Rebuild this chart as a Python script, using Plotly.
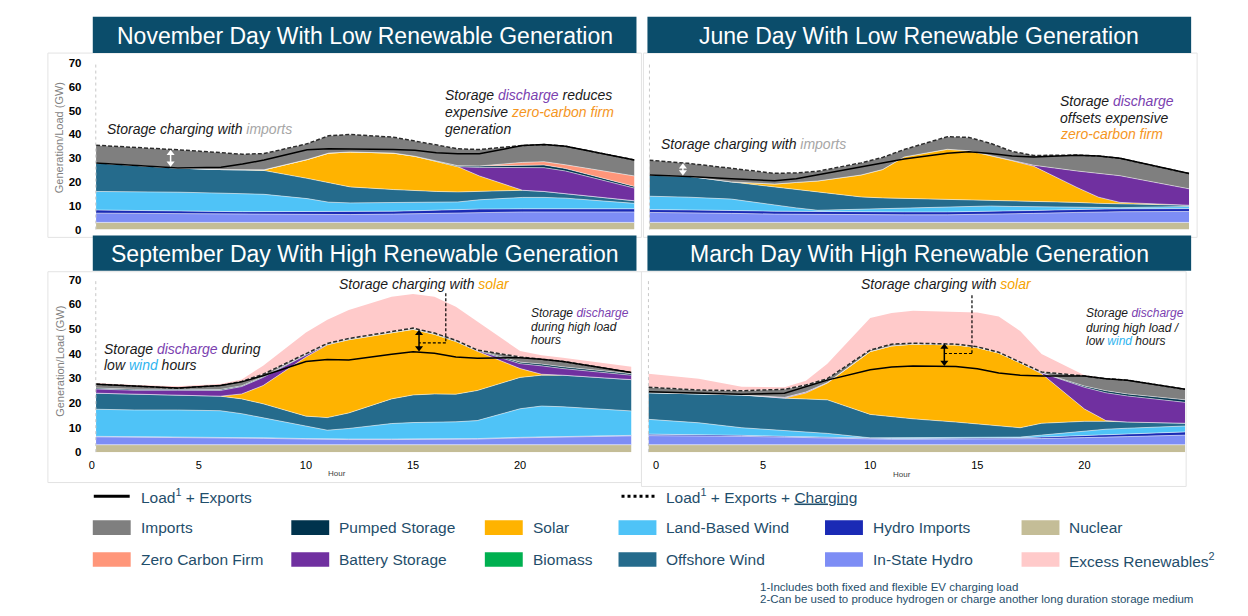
import plotly.graph_objects as go

W, H = 1248, 616
FONT = "Liberation Sans, Arial, Helvetica, sans-serif"

# ---------------- data (GW) ----------------
HOURS = [0.2, 2, 4, 6, 7, 8, 10, 11, 12, 14, 15, 16, 17, 18, 20, 21, 22, 25.2]
HOURS_MAR = [-0.35, 2, 4, 6, 7, 8, 10, 11, 12, 14, 15, 16, 17, 18, 20, 21, 22, 24.7]
X_TICKS = [0, 5, 10, 15, 20]
Y_TICKS = [0, 10, 20, 30, 40, 50, 60, 70]

# November day with low renewable generation
NOV_NUCLEAR = [3.0, 3.0, 3.0, 3.0, 3.0, 3.0, 3.0, 3.0, 3.0, 3.0, 3.0, 3.0, 3.0, 3.0, 3.0, 3.0, 3.0, 3.0]
NOV_INSTATE_HYDRO = [3.9, 3.8, 3.6, 3.4, 3.3, 3.3, 3.2, 3.2, 3.3, 3.5, 3.7, 3.9, 4.1, 4.3, 4.4, 4.4, 4.4, 4.4]
NOV_HYDRO_IMPORTS = [1.3, 1.3, 1.2, 1.2, 1.2, 1.2, 1.2, 1.2, 1.2, 1.2, 1.2, 1.3, 1.3, 1.3, 1.3, 1.3, 1.3, 1.3]
NOV_LAND_WIND = [7.8, 7.9, 7.9, 7.7, 7.5, 7.3, 5.6, 4.1, 3.7, 3.6, 3.4, 3.2, 3.2, 3.9, 4.8, 4.8, 4.5, 2.3]
NOV_OFFSHORE_WIND = [12.0, 11.0, 10.1, 9.9, 10.0, 10.0, 8.5, 8.1, 6.7, 5.5, 5.0, 4.6, 4.2, 3.5, 3.0, 2.5, 1.8, 1.1]
NOV_SOLAR = [0, 0, 0, 0, 0, 0.3, 7.9, 12.5, 14.7, 15.3, 14.5, 12.7, 10.6, 6.5, 0, 0, 0, 0]
NOV_BATTERY = [0, 0, 0, 0, 0, 0, 0, 0, 0, 0, 0, 0, 0, 3.6, 9.5, 10.0, 9.6, 5.3]
NOV_PUMPED = [0, 0, 0, 0, 0, 0, 0, 0, 0, 0, 0, 0, 0.4, 0.6, 1.0, 1.1, 1.0, 0.7]
NOV_ZCF = [0, 0, 0, 0, 0, 0, 0, 0, 0, 0, 0, 0, 0, 0, 1.2, 1.4, 1.6, 4.4]
NOV_IMPORTS = [7.4, 7.6, 7.7, 7.1, 6.6, 6.8, 6.6, 7.3, 7.3, 6.7, 6.3, 6.7, 7.1, 6.9, 7.1, 7.2, 7.8, 6.7]
NOV_LOAD = [28.0, 27.1, 25.9, 26.2, 27.5, 29.2, 33.5, 33.9, 33.9, 33.6, 33.3, 32.3, 31.8, 31.8, 35.3, 35.7, 35.0, 29.2]
NOV_LOAD_CHARGING = [35.4, 34.6, 33.5, 32.3, 31.6, 31.9, 36.0, 39.4, 39.9, 38.8, 37.1, 35.4, 33.9, 33.6, 35.3, 35.7, 35.0, 29.2]

# June day with low renewable generation
JUN_NUCLEAR = [3.0, 3.0, 3.0, 3.0, 3.0, 3.0, 3.0, 3.0, 3.0, 3.0, 3.0, 3.0, 3.0, 3.0, 3.0, 3.0, 3.0, 3.0]
JUN_INSTATE_HYDRO = [4.2, 4.1, 3.8, 3.5, 3.4, 3.3, 3.2, 3.2, 3.2, 3.2, 3.3, 3.4, 3.6, 3.8, 4.2, 4.4, 4.5, 4.6]
JUN_HYDRO_IMPORTS = [1.2, 1.2, 1.2, 1.2, 1.2, 1.2, 1.2, 1.2, 1.2, 1.2, 1.2, 1.2, 1.2, 1.2, 1.2, 1.2, 1.2, 1.2]
JUN_LAND_WIND = [5.6, 5.3, 4.8, 2.5, 1.5, 0.6, 1.1, 1.4, 1.7, 2.1, 2.2, 2.3, 1.9, 1.6, 1.1, 0.7, 0.5, 0.9]
JUN_OFFSHORE_WIND = [8.8, 8.8, 7.2, 7.6, 7.8, 7.8, 5.2, 4.5, 4.0, 3.3, 3.0, 2.6, 2.5, 2.4, 1.9, 1.7, 1.6, 0.5]
JUN_SOLAR = [0, 0, 0, 1.3, 2.9, 4.5, 9.2, 11.9, 17.4, 20.9, 20.4, 18.6, 16.7, 14.6, 6.3, 2.6, 0.6, 0]
JUN_BATTERY = [0, 0, 0, 0, 0, 0, 0, 0, 0, 0, 0, 0, 0, 0.4, 6.9, 10.1, 11.2, 6.9]
JUN_IMPORTS = [6.3, 5.4, 5.7, 4.5, 4.0, 4.1, 5.1, 5.1, 3.1, 5.3, 5.6, 5.1, 3.9, 4.1, 6.7, 7.2, 7.3, 6.4]
JUN_LOAD = [22.9, 22.3, 21.3, 20.5, 21.3, 23.0, 26.5, 28.2, 29.6, 32.0, 32.7, 31.9, 30.9, 30.5, 31.2, 30.9, 29.9, 23.5]
JUN_LOAD_CHARGING = [29.1, 27.8, 25.7, 23.6, 23.8, 24.5, 28.0, 30.3, 33.6, 39.0, 38.7, 36.2, 32.8, 31.1, 31.3, 30.9, 29.9, 23.5]

# September day with high renewable generation
SEP_NUCLEAR = [3.0, 3.0, 3.0, 3.0, 3.0, 3.0, 3.0, 3.0, 3.0, 3.0, 3.0, 3.0, 3.0, 3.0, 3.0, 3.0, 3.0, 3.0]
SEP_INSTATE_HYDRO = [3.2, 3.1, 3.0, 2.8, 2.7, 2.6, 2.3, 2.1, 2.1, 2.1, 2.1, 2.1, 2.2, 2.3, 2.8, 3.0, 3.2, 3.6]
SEP_HYDRO_IMPORTS = [0.2, 0.2, 0.2, 0.2, 0.2, 0.2, 0.2, 0.2, 0.2, 0.2, 0.2, 0.2, 0.2, 0.2, 0.2, 0.2, 0.2, 0.2]
SEP_LAND_WIND = [11.0, 10.8, 10.9, 10.8, 9.7, 8.1, 4.8, 3.6, 4.3, 6.3, 6.7, 6.7, 6.9, 7.3, 11.6, 12.5, 12.0, 9.9]
SEP_OFFSHORE_WIND = [6.5, 6.4, 5.9, 5.9, 6.0, 5.7, 4.3, 5.1, 6.3, 10.0, 11.2, 11.6, 11.2, 12.2, 12.7, 12.5, 12.8, 12.7]
SEP_SOLAR = [0, 0, 0, 0, 2.0, 7.4, 24.0, 29.5, 29.7, 26.9, 26.6, 24.2, 21.4, 15.9, 3.6, 0.4, 0, 0]
SEP_BATTERY = [1.7, 1.6, 2.1, 2.3, 3.0, 3.3, 0.8, 0.2, 0, 0, 0, 0, 0, 0.3, 2.0, 3.4, 2.7, 1.8]
SEP_PUMPED = [0.4, 0.4, 0.4, 0.4, 0.3, 0.3, 0.2, 0.1, 0.1, 0.1, 0.1, 0.1, 0.1, 0.2, 0.6, 0.7, 0.7, 0.6]
SEP_IMPORTS = [1.6, 1.3, 0.4, 1.6, 1.8, 1.0, 0.5, 0.3, 0.4, 0.4, 0.4, 0.4, 0.4, 0.0, 2.1, 2.0, 2.2, 0.5]
SEP_EXCESS = [0.4, 0.4, 0.8, 0.6, 0.8, 3.4, 8.4, 9.6, 11.6, 14.0, 13.8, 14.7, 13.6, 11.6, 2.4, 1.6, 1.5, 2.3]
SEP_LOAD = [27.5, 26.8, 26.0, 27.0, 28.5, 31.0, 36.8, 37.6, 37.4, 39.7, 40.7, 40.1, 38.6, 38.1, 38.3, 37.7, 36.8, 32.3]
SEP_LOAD_CHARGING = [27.6, 26.8, 25.9, 27.0, 28.7, 31.6, 40.1, 44.1, 46.1, 49.0, 50.3, 48.3, 45.4, 41.4, 38.6, 37.7, 36.8, 32.3]

# March day with high renewable generation
MAR_NUCLEAR = [3.0, 3.0, 3.0, 3.0, 3.0, 3.0, 3.0, 3.0, 3.0, 3.0, 3.0, 3.0, 3.0, 3.0, 3.0, 3.0, 3.0, 3.0]
MAR_INSTATE_HYDRO = [3.7, 3.6, 3.4, 3.1, 2.9, 2.7, 2.3, 2.2, 2.2, 2.2, 2.2, 2.3, 2.4, 2.5, 2.9, 3.0, 3.3, 3.9]
MAR_HYDRO_IMPORTS = [0.6, 0.5, 0.4, 0.3, 0.3, 0.3, 0.3, 0.3, 0.3, 0.3, 0.3, 0.3, 0.4, 0.6, 0.8, 1.0, 1.1, 1.3]
MAR_LAND_WIND = [6.0, 4.8, 3.1, 2.2, 1.8, 1.6, 0.2, 0.3, 0.3, 0.3, 0.3, 0.3, 0.3, 0.8, 1.9, 2.3, 2.3, 2.4]
MAR_OFFSHORE_WIND = [10.8, 11.7, 13.3, 13.3, 13.6, 13.6, 9.5, 8.5, 7.7, 6.4, 5.7, 5.0, 3.8, 4.8, 3.9, 3.2, 2.5, 1.1]
MAR_SOLAR = [0, 0, 0, 0, 2.4, 6.8, 25.5, 28.8, 30.3, 31.3, 30.9, 29.3, 26.3, 20.1, 5.0, 0.3, 0, 0]
MAR_BATTERY = [0, 0, 0, 0.3, 0.4, 0.2, 0, 0, 0, 0, 0, 0, 0, 0.4, 8.8, 11.3, 10.6, 8.5]
MAR_PUMPED = [0, 0, 0, 0, 0, 0, 0, 0, 0, 0, 0, 0, 0, 0, 0.5, 0.8, 0.8, 1.0]
MAR_IMPORTS = [2.2, 1.6, 1.7, 3.3, 2.8, 1.6, 0.6, 0.7, 0.4, 0.3, 0.3, 0.3, 0.3, 0.3, 4.1, 4.9, 5.6, 4.3]
MAR_EXCESS = [5.5, 4.6, 1.6, 0.8, 1.8, 6.0, 13.0, 12.6, 13.1, 13.2, 13.9, 14.5, 12.6, 7.3, 0.3, 0, 0, 0]
MAR_LOAD = [24.5, 23.9, 23.5, 23.9, 26.5, 29.2, 33.4, 34.5, 34.9, 34.7, 33.8, 32.1, 31.2, 30.9, 30.9, 29.8, 29.2, 25.5]
MAR_LOAD_CHARGING = [26.3, 25.2, 24.9, 25.5, 27.2, 29.8, 41.4, 43.8, 44.2, 43.8, 42.7, 40.5, 36.5, 32.5, 30.9, 29.8, 29.2, 25.5]

TITLES = ["November Day With Low Renewable Generation", "June Day With Low Renewable Generation",
          "September Day With High Renewable Generation", "March Day With High Renewable Generation"]

# stacking order (bottom -> top) and colours
ORDER = ["Nuclear", "In-State Hydro", "Hydro Imports", "Land-Based Wind", "Offshore Wind", "Solar",
         "Biomass", "Battery Storage", "Pumped Storage", "Zero Carbon Firm", "Imports", "Excess Renewables"]
COLORS = {
    "Nuclear": "#c4bd97", "In-State Hydro": "#7d8df5", "Hydro Imports": "#1a2ab5",
    "Land-Based Wind": "#4fc3f7", "Offshore Wind": "#256b8c", "Solar": "#ffb300",
    "Biomass": "#00b050", "Battery Storage": "#7030a0", "Pumped Storage": "#00334d",
    "Zero Carbon Firm": "#ff967a", "Imports": "#7f7f7f", "Excess Renewables": "#ffcaca",
}

PANELS = [
    dict(x="x", y="y", hours=HOURS, load=NOV_LOAD, charge=NOV_LOAD_CHARGING, series={
        "Nuclear": NOV_NUCLEAR, "In-State Hydro": NOV_INSTATE_HYDRO, "Hydro Imports": NOV_HYDRO_IMPORTS,
        "Land-Based Wind": NOV_LAND_WIND, "Offshore Wind": NOV_OFFSHORE_WIND, "Solar": NOV_SOLAR,
        "Battery Storage": NOV_BATTERY, "Pumped Storage": NOV_PUMPED, "Zero Carbon Firm": NOV_ZCF,
        "Imports": NOV_IMPORTS}),
    dict(x="x2", y="y2", hours=HOURS, load=JUN_LOAD, charge=JUN_LOAD_CHARGING, series={
        "Nuclear": JUN_NUCLEAR, "In-State Hydro": JUN_INSTATE_HYDRO, "Hydro Imports": JUN_HYDRO_IMPORTS,
        "Land-Based Wind": JUN_LAND_WIND, "Offshore Wind": JUN_OFFSHORE_WIND, "Solar": JUN_SOLAR,
        "Battery Storage": JUN_BATTERY, "Imports": JUN_IMPORTS}),
    dict(x="x3", y="y3", hours=HOURS, load=SEP_LOAD, charge=SEP_LOAD_CHARGING, series={
        "Nuclear": SEP_NUCLEAR, "In-State Hydro": SEP_INSTATE_HYDRO, "Hydro Imports": SEP_HYDRO_IMPORTS,
        "Land-Based Wind": SEP_LAND_WIND, "Offshore Wind": SEP_OFFSHORE_WIND, "Solar": SEP_SOLAR,
        "Battery Storage": SEP_BATTERY, "Pumped Storage": SEP_PUMPED, "Imports": SEP_IMPORTS,
        "Excess Renewables": SEP_EXCESS}),
    dict(x="x4", y="y4", hours=HOURS_MAR, load=MAR_LOAD, charge=MAR_LOAD_CHARGING, series={
        "Nuclear": MAR_NUCLEAR, "In-State Hydro": MAR_INSTATE_HYDRO, "Hydro Imports": MAR_HYDRO_IMPORTS,
        "Land-Based Wind": MAR_LAND_WIND, "Offshore Wind": MAR_OFFSHORE_WIND, "Solar": MAR_SOLAR,
        "Battery Storage": MAR_BATTERY, "Pumped Storage": MAR_PUMPED, "Imports": MAR_IMPORTS,
        "Excess Renewables": MAR_EXCESS}),
]


def px(x):
    return x / W


def py(y):
    return 1 - y / H


fig = go.Figure()
for i, p in enumerate(PANELS):
    for name in ORDER:
        if name not in p["series"]:
            continue
        edge = 0 if name == "Excess Renewables" else 0.7
        fig.add_trace(go.Scatter(
            x=p["hours"], y=p["series"][name], mode="lines", stackgroup=f"s{i}",
            line=dict(width=edge, color="rgba(255,255,255,0.75)"), fillcolor=COLORS[name],
            xaxis=p["x"], yaxis=p["y"], showlegend=False, hoverinfo="skip", name=name))
    fig.add_trace(go.Scatter(x=p["hours"], y=p["charge"], mode="lines",
                             line=dict(color="#2b2b2b", width=1.5, dash="4px,2px"),
                             xaxis=p["x"], yaxis=p["y"], showlegend=False, hoverinfo="skip"))
    fig.add_trace(go.Scatter(x=p["hours"], y=p["load"], mode="lines",
                             line=dict(color="black", width=1.5),
                             xaxis=p["x"], yaxis=p["y"], showlegend=False, hoverinfo="skip"))

noaxis = dict(showgrid=False, zeroline=False, showline=False)
ytick = dict(tickvals=Y_TICKS, ticks="outside", ticklen=7, tickcolor="rgba(0,0,0,0)",
             tickfont=dict(family=FONT, size=11.5, color="black", weight="bold"))
xtick = dict(tickvals=X_TICKS, ticks="outside", ticklen=3, tickcolor="rgba(0,0,0,0)",
             tickfont=dict(family=FONT, size=11, color="black"))

fig.update_layout(
    width=W, height=H, margin=dict(l=0, r=0, t=0, b=0),
    paper_bgcolor="white", plot_bgcolor="rgba(0,0,0,0)", showlegend=False,
    font=dict(family=FONT),
    xaxis=dict(domain=[px(89), px(633)], range=[0, 25.2], showticklabels=False, anchor="y", **noaxis),
    yaxis=dict(domain=[py(228), py(58)], range=[0, 70], anchor="x", **ytick, **noaxis),
    xaxis2=dict(domain=[px(648), px(1189)], range=[0.2, 25.2], showticklabels=False, anchor="y2", **noaxis),
    yaxis2=dict(domain=[py(228), py(58)], range=[0, 70], showticklabels=False, anchor="x2", **noaxis),
    xaxis3=dict(domain=[px(89), px(630)], range=[0, 25.2], anchor="y3", **xtick, **noaxis),
    yaxis3=dict(domain=[py(455), py(279)], range=[0, 70], anchor="x3", **ytick, **noaxis),
    xaxis4=dict(domain=[px(647), px(1185)], range=[-0.35, 24.7], anchor="y4", **xtick, **noaxis),
    yaxis4=dict(domain=[py(455), py(279)], range=[0, 70], showticklabels=False, anchor="x4", **noaxis),
)

shapes = []
annos = []

# faint panel frames
for (x0, y0, x1, y1) in [(45, 48, 640, 236), (642, 48, 1197, 236), (45, 271, 640, 486), (640, 271, 1186, 490)]:
    shapes.append(dict(type="rect", xref="paper", yref="paper", x0=px(x0), x1=px(x1), y0=py(y1), y1=py(y0),
                       line=dict(color="#e3e3e3", width=1), layer="below"))
# dotted y-axis lines
for (xx, y0, y1) in [(93, 58, 228), (648, 58, 228), (93, 279, 455), (647, 279, 455)]:
    shapes.append(dict(type="line", xref="paper", yref="paper", x0=px(xx), x1=px(xx), y0=py(y1), y1=py(y0),
                       line=dict(color="#c8c8c8", width=1, dash="dot")))
# title banners
for (x0, y0, x1, y1), title in zip([(90, 11, 635, 48), (646, 11, 1191, 48), (90, 234, 635, 270), (646, 234, 1191, 270)], TITLES):
    shapes.append(dict(type="rect", xref="paper", yref="paper", x0=px(x0), x1=px(x1), y0=py(y1), y1=py(y0),
                       fillcolor="#0b4d6b", line=dict(width=0), layer="above"))
    annos.append(dict(x=px((x0 + x1) / 2), y=py((y0 + y1) / 2 + 1), xref="paper", yref="paper", text=title,
                      showarrow=False, xanchor="center", yanchor="middle",
                      font=dict(family=FONT, size=23, color="white")))

# axis titles
for yc in [134, 362]:
    annos.append(dict(x=px(57), y=py(yc), xref="paper", yref="paper", text="Generation/Load (GW)", textangle=-90,
                      showarrow=False, xanchor="center", yanchor="middle",
                      font=dict(family=FONT, size=11, color="#7f7f7f")))
for (xc, yc) in [(335, 477), (901, 478)]:
    annos.append(dict(x=px(xc), y=py(yc), xref="paper", yref="paper", text="Hour", showarrow=False,
                      xanchor="center", yanchor="middle", font=dict(family=FONT, size=8, color="#404040")))

GRAY_T = "#a6a6a6"
PURP_T = "#7b3fb0"
ORNG_T = "#f5961e"
SOLAR_T = "#f5a300"
WIND_T = "#2fb4ef"
TXT = "#1a1a1a"


def span(t, c):
    return f'<span style="color:{c}">{t}</span>'


def note(x, y, text, size=14):
    annos.append(dict(x=px(x), y=py(y), xref="paper", yref="paper", text=f"<i>{text}</i>", showarrow=False,
                      xanchor="left", yanchor="middle", font=dict(family=FONT, size=size, color=TXT)))


note(102, 125, "Storage charging with " + span("imports", GRAY_T))
note(441, 91, "Storage " + span("discharge", PURP_T) + " reduces")
note(441, 108, "expensive " + span("zero-carbon firm", ORNG_T))
note(441, 125, "generation")
note(658, 141, "Storage charging with " + span("imports", GRAY_T))
note(1058, 97, "Storage " + span("discharge", PURP_T))
note(1058, 114, "offsets expensive")
note(1058, 131, span("zero-carbon firm", ORNG_T))
note(335, 284, "Storage charging with " + span("solar", SOLAR_T))
note(99, 350, "Storage " + span("discharge", PURP_T) + " during")
note(99, 366, "low " + span("wind", WIND_T) + " hours")
note(527, 313, "Storage " + span("discharge", PURP_T), 12)
note(527, 327, "during high load", 12)
note(527, 341, "hours", 12)
note(858, 284, "Storage charging with " + span("solar", SOLAR_T))
note(1084, 313, "Storage " + span("discharge", PURP_T), 12)
note(1084, 328, "during high load /", 12)
note(1084, 342, "low " + span("wind", WIND_T) + " hours", 12)

# double-headed arrows marking the charging gap (line + triangle heads)
ARROWS = [("x", "y", 3.66, 33.2, 26.6, "white"), ("x2", "y2", 1.75, 27.6, 23.0, "white"),
          ("x3", "y3", 15.28, 49.4, 41.0, "black"), ("x4", "y4", 13.46, 43.8, 35.2, "black")]
for (xr, yr, hx, ytop, ybot, col) in ARROWS:
    shapes.append(dict(type="line", xref=xr, yref=yr, x0=hx, x1=hx, y0=ybot + 1, y1=ytop - 1,
                       line=dict(color=col, width=1.5)))
    fig.add_trace(go.Scatter(x=[hx, hx], y=[ytop - 1.2, ybot + 1.2], mode="markers",
                             marker=dict(symbol=["triangle-up", "triangle-down"], size=7, color=col,
                                         line=dict(width=0)),
                             xaxis=xr, yaxis=yr, showlegend=False, hoverinfo="skip"))

# dashed brackets to the "charging with solar" notes
for (xr, yr, xv, ytop, ybot, xh) in [("x3", "y3", 16.53, 64.4, 44.3, 15.28), ("x4", "y4", 14.75, 63.6, 40.0, 13.46)]:
    shapes.append(dict(type="line", xref=xr, yref=yr, x0=xv, x1=xv, y0=ytop, y1=ybot,
                       line=dict(color="black", width=1.2, dash="3px,2px")))
    shapes.append(dict(type="line", xref=xr, yref=yr, x0=xv, x1=xh, y0=ybot, y1=ybot,
                       line=dict(color="black", width=1.2, dash="3px,2px")))

# ---------------- custom legend ----------------
LEG_T = "#1f4e6b"
shapes.append(dict(type="line", xref="paper", yref="paper", x0=px(91), x1=px(127), y0=py(500), y1=py(500),
                   line=dict(color="black", width=3)))
shapes.append(dict(type="line", xref="paper", yref="paper", x0=px(620), x1=px(655), y0=py(500), y1=py(500),
                   line=dict(color="black", width=3, dash="dot")))
annos.append(dict(x=px(136), y=py(500), xref="paper", yref="paper", text="Load<sup>1</sup> + Exports",
                  showarrow=False, xanchor="left", yanchor="middle", font=dict(family=FONT, size=15.5, color=LEG_T)))
annos.append(dict(x=px(663), y=py(500), xref="paper", yref="paper",
                  text="Load<sup>1</sup> + Exports + <u>Charging</u>",
                  showarrow=False, xanchor="left", yanchor="middle", font=dict(family=FONT, size=15.5, color=LEG_T)))

LEGEND_ROWS = [
    (532, ["Imports", "Pumped Storage", "Solar", "Land-Based Wind", "Hydro Imports", "Nuclear"]),
    (564.5, ["Zero Carbon Firm", "Battery Storage", "Biomass", "Offshore Wind", "In-State Hydro", "Excess Renewables"]),
]
SWATCH_X = [90, 289, 483, 617, 824, 1021]
for yrow, names in LEGEND_ROWS:
    for sx, name in zip(SWATCH_X, names):
        shapes.append(dict(type="rect", xref="paper", yref="paper", x0=px(sx), x1=px(sx + 38),
                           y0=py(yrow + 7.5), y1=py(yrow - 7.5), fillcolor=COLORS[name], line=dict(width=0)))
        label = name + ("<sup>2</sup>" if name == "Excess Renewables" else "")
        annos.append(dict(x=px(sx + 46), y=py(yrow), xref="paper", yref="paper", text=label, showarrow=False,
                          xanchor="left", yanchor="middle", font=dict(family=FONT, size=15.5, color=LEG_T)))

annos.append(dict(x=px(757), y=py(593), xref="paper", yref="paper",
                  text="1-Includes both fixed and flexible EV charging load", showarrow=False,
                  xanchor="left", yanchor="middle", font=dict(family=FONT, size=11.5, color=LEG_T)))
annos.append(dict(x=px(757), y=py(605), xref="paper", yref="paper",
                  text="2-Can be used to produce hydrogen or charge another long duration storage medium",
                  showarrow=False, xanchor="left", yanchor="middle", font=dict(family=FONT, size=11.5, color=LEG_T)))

fig.update_layout(shapes=shapes, annotations=annos)
fig.write_html("out.html", config={"displayModeBar": False},
               post_script="document.body.style.margin='0px';document.body.style.overflow='hidden';")
